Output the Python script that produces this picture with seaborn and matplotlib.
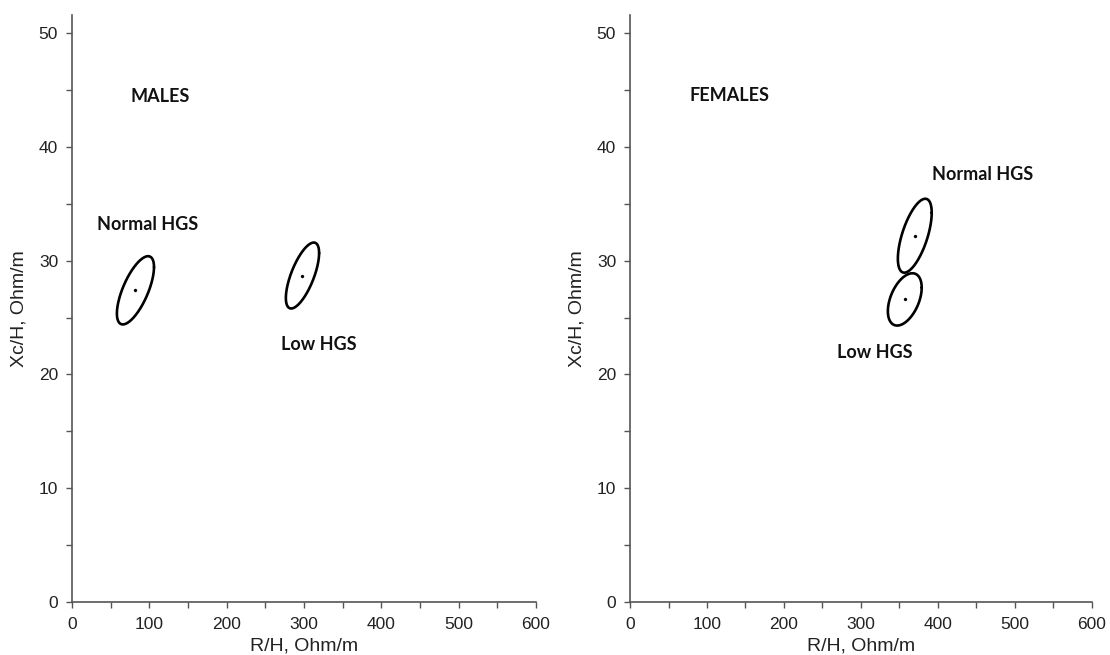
import numpy as np
import pandas as pd
import matplotlib
matplotlib.use("Agg")
import matplotlib.pyplot as plt
import seaborn as sns

# ---- data ----
panels = ["MALES", "FEMALES"]
groups = ["Normal HGS", "Low HGS"]
# ellipse centres (R/H, Xc/H)
male_cx = [82, 298]
male_cy = [27.4, 28.7]
female_cx = [370, 357]
female_cy = [32.2, 26.6]
# half-extents of the ellipses along x and y, and their tilt correlation
male_sx = [24, 21.5]
male_sy = [3.0, 2.9]
male_rho = [0.68, 0.68]
female_sx = [22, 22]
female_sy = [3.25, 2.3]
female_rho = [0.62, 0.45]
# label positions (left edge, centre height)
male_title_xy = (75, 44.4)
female_title_xy = (77, 44.5)
male_lab_x = [32, 270]
male_lab_y = [33.2, 22.6]
female_lab_x = [393, 269]
female_lab_y = [37.6, 21.9]

xticks = [0, 100, 200, 300, 400, 500, 600]
yticks = [0, 10, 20, 30, 40, 50]

sns.set_theme(style="white")
plt.rcParams['font.family'] = ['Liberation Sans', 'DejaVu Sans']

fig = plt.figure(figsize=(11.1, 6.55), dpi=100)
ax1 = fig.add_axes([0.0649, 0.081, 0.418, 0.896])
ax2 = fig.add_axes([0.5676, 0.081, 0.416, 0.896])

LABEL_FONT = ["Lato", "Open Sans", "DejaVu Sans"]

def ellipse(cx, cy, sx, sy, rho):
    t = np.linspace(0, 2 * np.pi, 300)
    x = cx + sx * np.cos(t)
    y = cy + sy * (rho * np.cos(t) + np.sqrt(1 - rho ** 2) * np.sin(t))
    return pd.DataFrame({"x": x, "y": y})

def draw(ax, title, title_xy, cx, cy, sx, sy, rho, lx, ly):
    for i in range(len(groups)):
        e = ellipse(cx[i], cy[i], sx[i], sy[i], rho[i])
        sns.lineplot(data=e, x="x", y="y", sort=False, estimator=None,
                     color="black", linewidth=1.9, ax=ax)
        ax.text(lx[i], ly[i], groups[i], fontsize=13, fontweight="bold",
                family=LABEL_FONT, va="center", ha="left", color="#111111")
    pts = pd.DataFrame({"x": cx, "y": cy})
    sns.scatterplot(data=pts, x="x", y="y", color="black", s=5,
                    edgecolor=None, ax=ax)
    ax.text(title_xy[0], title_xy[1], title, fontsize=13, fontweight="bold",
            family=LABEL_FONT, va="center", ha="left", color="#111111")
    ax.set_xlim(0, 600)
    ax.set_ylim(0, 51.6)
    ax.set_xticks(xticks)
    ax.set_yticks(yticks)
    ax.set_xticks(np.arange(50, 600, 100), minor=True)
    ax.set_yticks(np.arange(5, 51, 10), minor=True)
    ax.tick_params(axis="both", which="both", direction="out", length=4,
                   width=1, color="#555555", labelsize=12.5, labelcolor="#222222",
                   bottom=True, left=True)
    ax.tick_params(axis="x", pad=6.5)
    ax.tick_params(axis="y", pad=6)
    for s in ["top", "right"]:
        ax.spines[s].set_visible(False)
    for s in ["left", "bottom"]:
        ax.spines[s].set_color("#555555")
        ax.spines[s].set_linewidth(1.2)
    ax.set_xlabel("R/H, Ohm/m", fontsize=14, color="#222222", labelpad=4)
    ax.set_ylabel("Xc/H, Ohm/m", fontsize=14, color="#222222", labelpad=8)

draw(ax1, panels[0], male_title_xy, male_cx, male_cy, male_sx, male_sy,
     male_rho, male_lab_x, male_lab_y)
draw(ax2, panels[1], female_title_xy, female_cx, female_cy, female_sx,
     female_sy, female_rho, female_lab_x, female_lab_y)

fig.savefig("out.png", dpi=100, facecolor="white")
